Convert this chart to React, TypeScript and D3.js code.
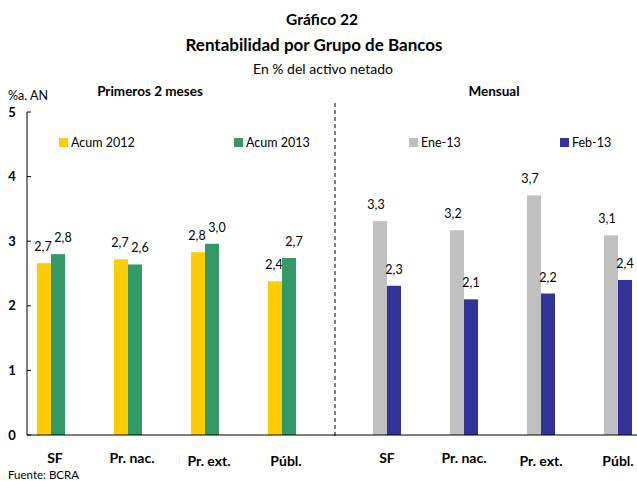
import React from 'react';
import * as d3 from 'd3';

// Groups of banks and the four series (in % a. of netted assets)
const groups = ['SF', 'Pr. nac.', 'Pr. ext.', 'Públ.'];
const acum2012 = [2.66, 2.72, 2.83, 2.38];
const acum2013 = [2.8, 2.64, 2.96, 2.74];
const ene13 = [3.31, 3.17, 3.71, 3.09];
const feb13 = [2.31, 2.1, 2.19, 2.4];
const yTicks = [0, 1, 2, 3, 4, 5];

const W = 637;
const H = 481;
const FONT = 'Lato, "Open Sans", sans-serif';

const fmt = (v: number) => v.toFixed(1).replace('.', ',');

const App = () => {
  // === scales ===
  const y = d3.scaleLinear().domain([0, 5]).range([435, 112]);
  const axisX = 27;

  const xLeft = d3.scaleBand().domain(groups).range([12.5, 320.5]).paddingInner(0.636).paddingOuter(0.318);
  const xRight = d3.scaleBand().domain(groups).range([348.5, 656.5]).paddingInner(0.636).paddingOuter(0.318);
  const inner = d3.scaleBand().domain(['a', 'b']).range([0, xLeft.bandwidth()]);

  const panels = [
    { x: xLeft, series: [
      { key: 'a', values: acum2012, color: '#FFCC00', dx: -1 },
      { key: 'b', values: acum2013, color: '#339966', dx: 5 },
    ], labelDx: 4 },
    { x: xRight, series: [
      { key: 'a', values: ene13, color: '#C0C0C0', dx: -4 },
      { key: 'b', values: feb13, color: '#333399', dx: 0 },
    ], labelDx: 0 },
  ];

  const legend = [
    { name: 'Acum 2012', color: '#FFCC00', x: 59 },
    { name: 'Acum 2013', color: '#339966', x: 234 },
    { name: 'Ene-13', color: '#C0C0C0', x: 409 },
    { name: 'Feb-13', color: '#333399', x: 560 },
  ];

  return (
    <svg width={W} height={H} style={{ position: 'absolute', left: 0, top: 0, background: '#fff' }} fontFamily={FONT}>
      {/* titles */}
      <text x={322} y={25} textAnchor="middle" fontSize={15.5} fontWeight="bold">Gráfico 22</text>
      <text x={314} y={51} textAnchor="middle" fontSize={17} fontWeight="bold">Rentabilidad por Grupo de Bancos</text>
      <text x={323} y={74} textAnchor="middle" fontSize={14}>En % del activo netado</text>

      <text x={8} y={100} fontSize={12.5}>%a. AN</text>
      <text x={150} y={96} textAnchor="middle" fontSize={13.5} fontWeight="bold">Primeros 2 meses</text>
      <text x={494} y={96} textAnchor="middle" fontSize={13.5} fontWeight="bold">Mensual</text>

      {/* y axis */}
      <line x1={axisX} x2={axisX} y1={y(5)} y2={y(0)} stroke="#000" />
      {yTicks.map((t) => (
        <g key={t}>
          <line x1={axisX} x2={axisX + 4} y1={y(t)} y2={y(t)} stroke="#000" />
          <text x={12} y={y(t) + 4.5} textAnchor="middle" fontSize={13} fontWeight="bold">{t}</text>
        </g>
      ))}

      {/* separator */}
      <line x1={335} x2={335} y1={103} y2={437} stroke="#000" strokeDasharray="4,3" />

      {/* bars */}
      {panels.map((p, pi) => (
        <g key={pi}>
          {p.series.map((s) =>
            s.values.map((v, i) => {
              const bx = (p.x(groups[i]) as number) + (inner(s.key) as number);
              return (
                <g key={s.key + i}>
                  <rect x={bx} y={y(v)} width={inner.bandwidth()} height={y(0) - y(v)} fill={s.color} />
                  <text x={bx + inner.bandwidth() / 2 + s.dx} y={y(v) - 12} textAnchor="middle" fontSize={12.5}>{fmt(v)}</text>
                </g>
              );
            })
          )}
          {groups.map((g, i) => (
            <text key={g} x={(p.x(g) as number) + p.x.bandwidth() / 2 + p.labelDx} y={i < 2 ? 463 : 466} textAnchor="middle" fontSize={14} fontWeight="bold">{g}</text>
          ))}
        </g>
      ))}

      {/* x axis */}
      <line x1={axisX} x2={W} y1={y(0)} y2={y(0)} stroke="#000" />

      {/* legend */}
      {legend.map((l) => (
        <g key={l.name}>
          <rect x={l.x} y={138} width={9} height={9} fill={l.color} />
          <text x={l.x + 12} y={146.5} fontSize={12.5}>{l.name}</text>
        </g>
      ))}

      <text x={8} y={479} fontSize={11.5}>Fuente: BCRA</text>
    </svg>
  );
};

export default App;
